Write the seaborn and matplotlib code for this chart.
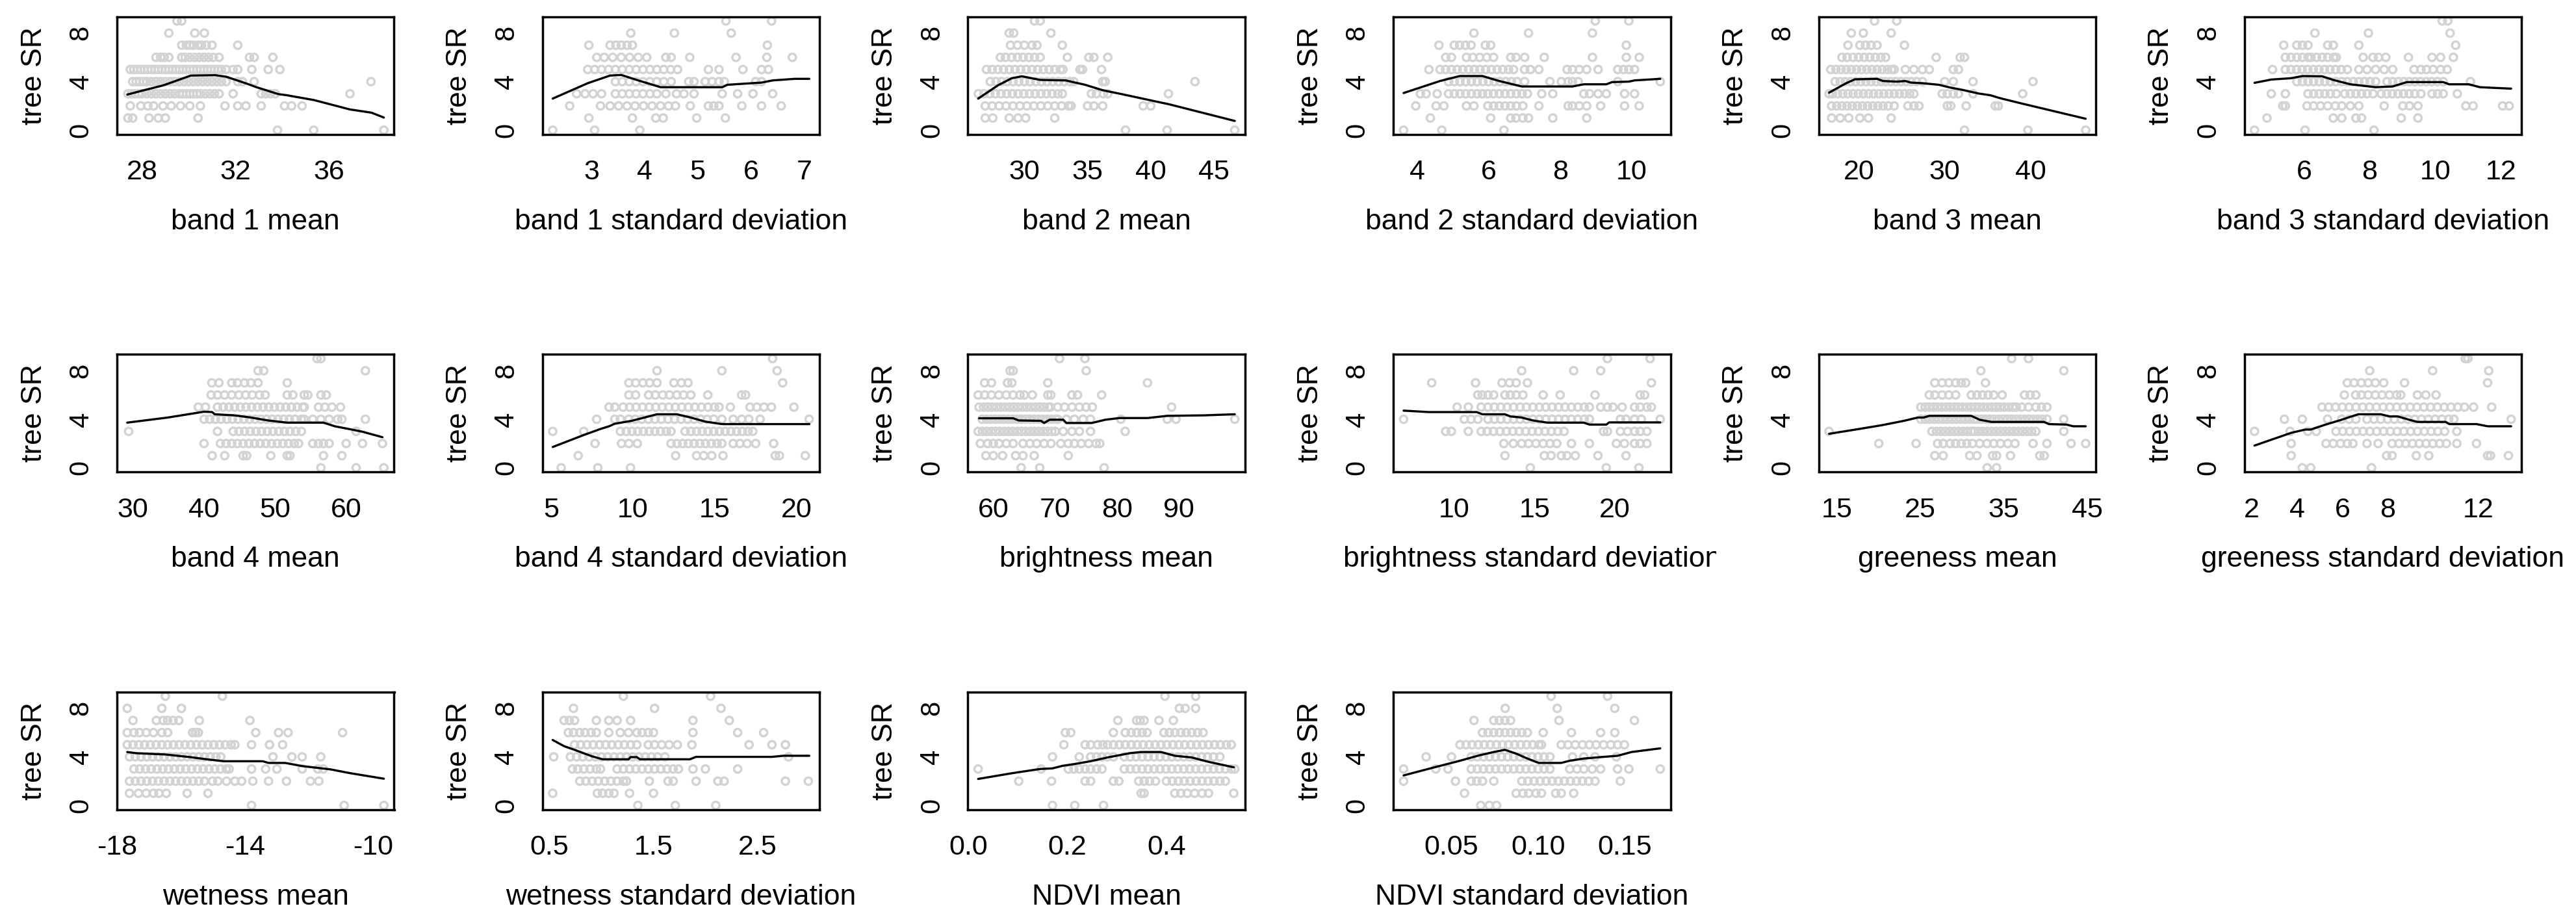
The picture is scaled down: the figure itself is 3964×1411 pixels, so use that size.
import matplotlib
matplotlib.use("Agg")
import matplotlib.pyplot as plt
import numpy as np
import pandas as pd
import seaborn as sns
from matplotlib.transforms import Bbox, TransformedBbox

# values: tree SR level -> x values of the grey points,
# plus the black smoother line for each predictor

band1_mean_pts = {
    9: [29.5, 29.7],
    8: [29.15, 30.26, 30.67],
    7: [29.7, 29.9, 30.05, 30.2, 30.4, 30.55, 30.75, 31.0, 32.1],
    6: [28.6, 28.8, 28.95, 29.15, 29.7, 29.85, 30.05, 30.25, 30.45, 30.65, 30.85, 31.05, 31.3, 32.6, 32.8, 33.6],
    5: [27.5, 27.65, 27.8, 27.95, 28.1, 28.25, 28.4, 28.55, 28.7, 28.85, 29.0, 29.15, 29.3, 29.45, 29.6, 29.75,
        29.9, 30.05, 30.2, 30.35, 30.5, 30.65, 30.8, 30.95, 31.1, 31.25, 31.4, 31.6, 31.9, 32.1, 32.7, 33.4, 33.9],
    4: [27.6, 27.75, 27.9, 28.05, 28.2, 28.4, 28.6, 28.8, 29.0, 29.2, 29.4, 29.6, 29.8, 30.0, 30.2, 30.4, 30.6,
        30.8, 31.0, 31.2, 31.4, 31.6, 32.1, 32.3, 32.8, 37.8],
    3: [27.4, 27.55, 27.7, 27.85, 28.0, 28.2, 28.4, 28.6, 28.8, 29.0, 29.2, 29.4, 29.6, 29.75, 29.9, 30.05, 30.2,
        30.35, 30.5, 30.7, 30.9, 31.1, 31.3, 31.9, 33.1, 33.3, 33.5, 33.7, 36.9],
    2: [27.5, 27.95, 28.25, 28.5, 28.9, 29.25, 29.65, 30.05, 30.5, 31.55, 32.1, 32.45, 33.1, 34.1, 34.4, 34.85],
    1: [27.4, 27.6, 28.3, 28.7, 29.0, 30.4],
    0: [33.8, 35.35, 38.35],
}
band1_mean_line_x = [27.37, 27.98, 28.91, 30.09, 31.14, 31.61, 32.43, 32.9, 33.84, 34.19, 35.36, 36.89, 37.82, 38.35]
band1_mean_line_y = [2.93, 3.24, 3.69, 4.5, 4.53, 4.4, 3.87, 3.54, 2.97, 2.88, 2.48, 1.71, 1.44, 1.04]
band1_mean_ticks = [28, 30, 32, 34, 36, 38]
band1_mean_labels = ["28", "", "32", "", "36", ""]

band1_sd_pts = {
    9: [5.53, 6.39],
    8: [3.74, 4.56, 5.63],
    7: [2.95, 3.35, 3.46, 3.56, 3.67, 3.77, 6.31],
    6: [3.1, 3.24, 3.4, 3.56, 3.72, 3.88, 4.04, 4.4, 4.5, 4.85, 5.72, 6.3, 6.78],
    5: [2.93, 3.06, 3.19, 3.32, 3.45, 3.58, 3.71, 3.84, 3.97, 4.1, 4.23, 4.36, 4.49, 4.62, 5.2, 5.4, 5.85, 6.2, 6.33],
    4: [3.45, 3.58, 3.71, 3.84, 3.97, 4.1, 4.23, 4.36, 4.5, 4.83, 4.93, 5.14, 5.27, 5.4, 5.5, 6.09, 6.2],
    3: [2.72, 2.88, 3.03, 3.19, 3.45, 3.58, 3.71, 3.84, 3.97, 4.1, 4.23, 4.4, 4.6, 4.74, 4.93, 5.46, 5.75, 6.04, 6.41],
    2: [2.59, 3.17, 3.35, 3.51, 3.67, 3.82, 3.98, 4.14, 4.3, 4.45, 4.58, 4.86, 5.2, 5.3, 5.4, 5.83, 6.2, 6.57],
    1: [2.95, 3.77, 4.21, 4.35, 4.98, 5.52],
    0: [2.27, 3.06, 3.91],
}
band1_sd_line_x = [2.27, 2.93, 3.35, 3.56, 3.88, 4.3, 5.46, 5.56, 6.2, 6.41, 6.83, 7.1]
band1_sd_line_y = [2.6, 3.87, 4.5, 4.55, 4.1, 3.54, 3.54, 3.74, 3.92, 4.1, 4.23, 4.23]
band1_sd_ticks = [3, 4, 5, 6, 7]
band1_sd_labels = ["3", "4", "5", "6", "7"]

band2_mean_pts = {
    9: [30.8, 31.25],
    8: [28.8, 29.15, 32.1],
    7: [28.9, 29.45, 30.0, 30.6, 31.0, 33.0],
    6: [28.1, 28.5, 29.0, 29.45, 29.9, 30.35, 30.8, 31.25, 33.4, 35.1, 35.5, 36.6],
    5: [27.0, 27.45, 27.9, 28.35, 28.8, 29.25, 29.7, 30.15, 30.6, 31.05, 31.5, 31.95, 32.4, 32.85, 33.05,
        34.4, 34.6, 36.1],
    4: [27.3, 27.75, 28.2, 28.65, 29.1, 29.55, 30.0, 30.45, 30.9, 31.35, 31.8, 32.25, 32.7, 33.15, 33.6, 33.9,
        36.2, 36.4, 43.5],
    3: [26.35, 26.8, 27.25, 27.7, 28.15, 28.6, 29.05, 29.5, 29.95, 30.4, 30.85, 31.3, 31.75, 32.2, 32.65, 33.0,
        35.3, 35.7, 36.25, 36.6, 41.4],
    2: [26.9, 27.45, 28.0, 28.55, 29.1, 29.65, 30.2, 30.75, 31.3, 31.85, 32.4, 32.95, 33.5, 33.7, 35.0, 35.5,
        36.2, 39.4, 40.0],
    1: [26.9, 27.5, 28.8, 29.5, 30.1, 32.4],
    0: [38.0, 41.3, 46.65],
}
band2_mean_line_x = [26.34, 27.9, 29.0, 29.8, 31.25, 33.26, 34.8, 36.2, 37.7, 41.5, 46.65]
band2_mean_line_y = [2.6, 3.69, 4.28, 4.44, 4.14, 4.1, 3.74, 3.29, 2.97, 2.12, 0.76]
band2_mean_ticks = [30, 35, 40, 45]
band2_mean_labels = ["30", "35", "40", "45"]

band2_sd_pts = {
    9: [8.98, 9.92],
    8: [5.58, 7.11, 8.9],
    7: [4.6, 5.03, 5.18, 5.34, 5.5, 5.9, 6.05, 9.85],
    6: [4.79, 4.95, 5.37, 5.55, 5.74, 5.94, 6.13, 6.61, 6.76, 7.0, 7.55, 8.9, 9.85, 10.21],
    5: [4.32, 4.63, 4.79, 4.95, 5.11, 5.27, 5.43, 5.59, 5.75, 5.91, 6.07, 6.23, 6.39, 6.55, 6.69, 7.0, 7.16, 7.4,
        8.19, 8.34, 8.53, 8.74, 9.06, 9.61, 9.77, 9.92, 10.08],
    4: [4.87, 5.03, 5.19, 5.35, 5.51, 5.67, 5.83, 5.99, 6.15, 6.31, 6.47, 6.63, 6.79, 7.0, 7.71, 8.03, 8.22,
        8.34, 8.5, 9.61, 10.8],
    3: [4.08, 4.24, 4.55, 4.87, 5.03, 5.19, 5.35, 5.51, 5.67, 5.82, 5.97, 6.13, 6.29, 6.45, 6.61, 6.77, 6.93,
        7.08, 7.48, 7.79, 8.66, 8.82, 9.06, 9.29, 9.8, 10.08],
    2: [3.95, 4.52, 4.74, 5.37, 5.58, 5.97, 6.13, 6.29, 6.45, 6.61, 6.77, 6.95, 7.4, 8.22, 8.34, 8.53, 8.74,
        9.13, 9.8, 10.21],
    1: [4.36, 6.05, 6.61, 6.76, 6.95, 7.11, 7.79, 8.74],
    0: [3.61, 4.68, 6.42],
}
band2_sd_line_x = [3.61, 4.63, 5.18, 5.82, 6.29, 6.92, 8.34, 8.66, 9.29, 9.45, 9.92, 10.08, 10.8]
band2_sd_line_y = [3.06, 4.05, 4.46, 4.46, 4.05, 3.6, 3.6, 3.78, 3.78, 3.96, 4.0, 4.1, 4.23]
band2_sd_ticks = [4, 5, 6, 7, 8, 9, 10, 11]
band2_sd_labels = ["4", "", "6", "", "8", "", "10", ""]

band3_mean_pts = {
    9: [21.8, 24.4],
    8: [19.1, 20.5, 23.75],
    7: [18.7, 20.1, 20.75, 21.4, 22.1, 25.3],
    6: [18.0, 18.6, 19.3, 19.95, 20.6, 21.25, 21.9, 22.55, 23.1, 29.0, 31.8, 32.3],
    5: [16.7, 17.3, 17.9, 18.5, 19.1, 19.7, 20.3, 20.9, 21.5, 22.1, 22.7, 23.3, 23.8, 24.1, 25.4, 26.4, 27.4,
        28.2, 31.0, 31.6],
    4: [17.2, 17.8, 18.4, 19.0, 19.6, 20.2, 20.8, 21.4, 22.0, 22.6, 23.1, 23.7, 24.3, 24.9, 25.5, 26.1, 26.7,
        27.4, 30.0, 31.0, 33.3, 40.3],
    3: [16.5, 16.9, 17.5, 18.1, 18.7, 19.3, 19.9, 20.5, 21.1, 21.7, 22.3, 22.9, 23.5, 24.1, 24.7, 25.3, 25.9,
        26.4, 29.7, 30.3, 31.0, 31.6, 33.3, 39.1],
    2: [16.8, 17.4, 18.0, 18.6, 19.2, 19.8, 20.4, 21.0, 21.6, 22.2, 22.8, 23.4, 24.1, 25.7, 26.4, 27.0, 30.3,
        30.7, 32.5, 35.9, 36.25],
    1: [16.8, 17.8, 18.8, 20.1, 21.1, 23.75],
    0: [32.3, 39.7, 46.45],
}
band3_mean_line_x = [16.5, 18.5, 19.5, 22.1, 22.8, 24.4, 25.4, 26.05, 27.4, 29.3, 30.65, 32.0, 33.95, 35.3,
                     36.6, 39.2, 46.45]
band3_mean_line_y = [3.09, 3.87, 4.19, 4.23, 4.05, 4.0, 4.05, 3.92, 3.87, 3.74, 3.51, 3.33, 3.02, 2.88, 2.61,
                     2.16, 0.94]
band3_mean_ticks = [20, 25, 30, 35, 40, 45]
band3_mean_labels = ["20", "", "30", "", "40", ""]

band3_sd_pts = {
    9: [10.21, 10.38],
    8: [6.33, 7.96, 10.45],
    7: [5.38, 5.78, 5.95, 6.12, 6.72, 6.89, 7.67, 10.62],
    6: [5.43, 5.6, 5.78, 5.95, 6.12, 6.21, 6.38, 6.55, 6.72, 6.9, 6.98, 7.8, 8.1, 8.27, 8.49, 9.18, 9.9, 10.16,
        10.55],
    5: [5.04, 5.43, 5.6, 5.77, 5.94, 6.11, 6.28, 6.45, 6.62, 6.79, 6.96, 7.13, 7.32, 7.67, 7.92, 8.18, 8.44,
        8.7, 9.35, 9.56, 9.73, 9.93, 10.16, 10.36],
    4: [5.78, 5.95, 6.12, 6.29, 6.46, 6.63, 6.8, 6.97, 7.15, 7.32, 7.5, 7.67, 7.84, 8.01, 8.18, 8.53, 8.7,
        8.87, 9.04, 9.21, 9.38, 9.55, 9.72, 9.89, 10.06, 10.24, 11.07],
    3: [5.0, 5.43, 6.12, 6.29, 6.46, 6.63, 6.8, 6.98, 7.24, 7.41, 7.58, 7.75, 7.92, 8.1, 8.35, 8.52, 8.69,
        8.86, 9.03, 9.2, 9.37, 9.56, 9.9, 10.07, 10.24, 10.67],
    2: [5.35, 5.43, 6.09, 6.29, 6.5, 6.72, 6.95, 7.15, 7.41, 7.67, 8.44, 9.01, 9.21, 9.47, 10.93, 11.15,
        12.05, 12.25],
    1: [4.87, 6.89, 7.15, 7.58, 7.75, 8.96, 9.47],
    0: [4.49, 6.03, 8.13],
}
band3_sd_line_x = [4.49, 5.0, 5.6, 5.95, 6.55, 6.89, 7.41, 8.18, 8.7, 9.13, 10.24, 10.42, 11.02, 11.36, 12.31]
band3_sd_line_y = [3.9, 4.17, 4.28, 4.46, 4.44, 4.14, 3.78, 3.54, 3.6, 3.96, 3.96, 3.78, 3.78, 3.54, 3.42]
band3_sd_ticks = [6, 8, 10, 12]
band3_sd_labels = ["6", "8", "10", "12"]

band4_mean_pts = {
    9: [55.9, 56.45],
    8: [47.6, 48.4, 62.7],
    7: [41.1, 42.1, 43.9, 44.7, 45.7, 46.6, 47.6, 51.7],
    6: [41.0, 41.9, 42.9, 43.9, 44.9, 45.85, 46.8, 47.8, 48.6, 51.7, 52.5, 54.1, 54.6, 56.45, 57.2],
    5: [39.2, 40.2, 41.9, 42.7, 43.5, 44.3, 45.1, 45.9, 46.7, 47.5, 48.3, 49.1, 49.9, 50.7, 51.5, 52.3, 53.1,
        53.9, 54.1, 56.1, 57.0, 58.0, 59.2],
    4: [40.0, 40.8, 41.6, 42.4, 43.2, 44.0, 44.8, 45.6, 46.4, 47.2, 48.0, 48.8, 49.6, 50.4, 51.2, 52.0, 52.8,
        53.7, 54.1, 55.3, 56.45, 57.6, 58.8, 59.4, 62.7],
    3: [29.4, 41.9, 44.1, 44.9, 45.7, 46.5, 47.3, 48.1, 48.9, 49.7, 50.5, 51.3, 52.1, 52.9, 53.7, 61.4],
    2: [40.0, 42.3, 43.1, 43.9, 44.7, 45.5, 46.3, 47.1, 47.9, 48.7, 49.5, 50.3, 51.1, 51.9, 52.7, 53.3, 55.3,
        56.1, 56.8, 57.6, 60.0, 62.3, 65.1],
    1: [41.15, 42.9, 45.5, 46.0, 49.4, 51.7, 52.1, 56.8, 59.4],
    0: [56.45, 61.4, 65.3],
}
band4_mean_line_x = [29.2, 34.9, 40.0, 41.15, 41.5, 44.3, 46.6, 49.0, 51.7, 56.8, 58.4, 60.0, 62.3, 65.1]
band4_mean_line_y = [3.72, 4.14, 4.62, 4.59, 4.41, 4.32, 4.14, 3.9, 3.72, 3.72, 3.42, 3.24, 2.97, 2.52]
band4_mean_ticks = [30, 35, 40, 45, 50, 55, 60, 65]
band4_mean_labels = ["30", "", "40", "", "50", "", "60", ""]

band4_sd_pts = {
    9: [18.55],
    8: [11.48, 15.45, 18.83],
    7: [9.76, 10.17, 10.62, 11.03, 11.48, 12.52, 12.97, 13.38, 19.17],
    6: [9.76, 10.17, 10.97, 11.38, 11.83, 12.24, 12.69, 13.1, 13.55, 14.59, 16.66, 16.9],
    5: [8.55, 8.9, 9.41, 9.8, 10.2, 10.6, 11.0, 11.4, 11.8, 12.2, 12.6, 13.0, 13.4, 13.8, 14.2, 14.6, 15.0,
        15.28, 15.97, 17.17, 17.59, 18.03, 18.48, 19.86],
    4: [7.79, 8.9, 9.24, 9.76, 10.15, 10.55, 10.95, 11.35, 11.75, 12.15, 12.55, 12.95, 13.35, 13.75, 14.15,
        14.55, 14.95, 15.45, 16.14, 16.66, 17.1, 17.79, 20.79],
    3: [5.1, 7.0, 9.24, 9.6, 9.95, 10.3, 10.65, 11.0, 11.35, 11.7, 12.05, 12.34, 13.2, 13.55, 13.9, 14.25,
        14.6, 14.95, 15.3, 15.65, 16.0, 16.35, 16.7, 17.05, 17.34],
    2: [7.69, 9.31, 9.76, 10.28, 12.34, 12.7, 13.05, 13.4, 13.75, 14.1, 14.45, 14.8, 15.15, 15.45, 16.14,
        16.55, 17.0, 17.52, 18.62],
    1: [6.66, 12.62, 13.9, 14.34, 14.83, 15.52, 18.72, 18.97, 20.55],
    0: [5.62, 7.86, 9.86],
}
band4_sd_line_x = [5.1, 7.0, 8.03, 8.55, 8.9, 9.93, 10.97, 11.48, 12.69, 13.55, 14.41, 15.45, 20.8]
band4_sd_line_y = [1.71, 2.7, 3.2, 3.42, 3.63, 3.87, 4.23, 4.41, 4.41, 4.14, 3.81, 3.6, 3.6]
band4_sd_ticks = [5, 10, 15, 20]
band4_sd_labels = ["5", "10", "15", "20"]

bright_mean_pts = {
    9: [70.7, 74.8],
    8: [62.7, 63.2, 75.0],
    7: [58.6, 59.7, 62.3, 63.0, 68.8, 84.9],
    6: [57.55, 58.6, 59.7, 60.9, 62.1, 63.2, 64.3, 65.0, 66.3, 68.8, 69.3, 72.7, 73.6, 77.5],
    5: [57.7, 58.4, 59.1, 59.8, 60.5, 61.2, 61.9, 62.6, 63.3, 64.0, 64.7, 65.4, 66.1, 66.8, 67.5, 68.2, 68.9,
        69.2, 70.4, 71.5, 72.7, 73.9, 75.0, 76.0, 88.8],
    4: [58.2, 58.9, 59.6, 60.3, 61.0, 61.7, 62.4, 63.1, 63.8, 64.5, 65.2, 65.9, 66.6, 67.3, 68.0, 68.7, 69.4,
        70.1, 70.4, 71.8, 73.1, 74.5, 75.7, 80.6, 88.1, 89.5, 99.0],
    3: [57.55, 58.25, 58.95, 59.65, 60.35, 61.05, 61.75, 62.45, 63.15, 63.85, 64.55, 65.25, 65.95, 66.65,
        67.35, 68.05, 68.75, 69.45, 70.0, 71.3, 72.7, 73.9, 75.7, 81.3],
    2: [57.9, 59.1, 60.0, 60.9, 62.1, 63.2, 64.8, 65.9, 67.0, 68.2, 69.3, 70.9, 72.1, 73.1, 74.2, 75.4, 76.6,
        77.2],
    1: [58.8, 60.0, 61.5, 63.6, 64.8, 66.6, 72.1],
    0: [64.5, 67.5, 77.9],
}
bright_mean_line_x = [57.7, 63.2, 64.1, 67.7, 68.2, 69.1, 71.3, 71.8, 75.9, 78.1, 80.4, 84.9, 88.1, 94.0, 99.0]
bright_mean_line_y = [4.08, 4.08, 3.9, 3.87, 3.69, 3.96, 3.96, 3.69, 3.69, 3.96, 4.1, 4.1, 4.28, 4.32, 4.41]
bright_mean_ticks = [60, 70, 80, 90, 100]
bright_mean_labels = ["60", "70", "80", "90", ""]

bright_sd_pts = {
    9: [19.54, 22.2],
    8: [14.2, 17.44, 19.12],
    7: [8.6, 11.33, 12.98, 13.44, 13.86, 14.56, 22.28],
    6: [11.47, 11.75, 12.1, 12.46, 13.16, 13.5, 13.86, 14.28, 15.54, 16.6, 18.77, 21.58, 21.86],
    5: [10.18, 10.88, 11.68, 12.1, 12.5, 12.9, 13.3, 13.7, 14.1, 14.5, 14.9, 15.3, 15.7, 16.1, 16.5, 16.9,
        17.3, 17.7, 18.1, 18.42, 19.12, 19.54, 19.89, 20.46, 21.23, 21.58, 22.0, 22.28],
    4: [6.85, 10.63, 11.05, 11.47, 12.1, 12.5, 12.9, 13.3, 13.7, 14.1, 14.5, 14.9, 15.3, 15.7, 16.1, 16.5,
        16.9, 17.3, 17.7, 18.1, 18.42, 20.35, 20.7, 21.23, 21.65, 22.83],
    3: [9.47, 9.82, 10.88, 11.68, 12.05, 12.45, 12.85, 13.25, 13.65, 14.05, 14.45, 14.85, 15.25, 15.65, 16.05,
        16.45, 16.84, 19.3, 19.54, 20.35, 20.8, 21.23, 21.58, 22.0],
    2: [13.09, 13.68, 14.2, 14.63, 15.09, 15.54, 15.96, 16.39, 17.3, 18.42, 20.1, 20.6, 21.23, 21.58, 22.0],
    1: [13.16, 15.61, 16.03, 16.67, 17.02, 17.54, 18.95, 20.7],
    0: [14.74, 19.47, 21.5],
}
bright_sd_line_x = [6.85, 8.42, 11.4, 11.75, 13.16, 13.5, 14.2, 14.9, 15.8, 18.07, 18.42, 19.47, 19.65, 22.83]
bright_sd_line_y = [4.71, 4.59, 4.59, 4.41, 4.41, 4.23, 4.14, 3.9, 3.72, 3.72, 3.56, 3.56, 3.74, 3.74]
bright_sd_ticks = [10, 15, 20]
bright_sd_labels = ["10", "15", "20"]

green_mean_pts = {
    9: [35.94, 37.95],
    8: [32.25, 42.18],
    7: [26.74, 27.62, 28.42, 29.23, 29.9, 30.44, 32.8],
    6: [26.07, 26.74, 27.62, 28.42, 29.23, 31.1, 31.78, 32.45, 33.12, 33.79, 34.8, 37.48, 38.15, 38.83],
    5: [25.07, 25.57, 26.07, 26.57, 27.07, 27.57, 28.07, 28.57, 29.07, 29.57, 30.07, 30.57, 31.07, 31.57,
        32.07, 32.57, 33.07, 33.57, 34.07, 34.57, 35.07, 35.57, 36.07, 36.48, 37.15, 37.95, 38.83, 39.5, 40.17],
    4: [25.07, 25.6, 26.13, 26.66, 27.19, 27.72, 28.25, 28.78, 29.31, 29.84, 30.37, 30.9, 31.44, 31.78, 32.3,
        32.82, 33.34, 33.86, 34.38, 34.9, 35.42, 35.94, 36.46, 36.98, 37.5, 38.02, 38.54, 39.06, 39.58, 40.17,
        42.18],
    3: [14.08, 26.4, 26.93, 27.46, 27.99, 28.52, 29.05, 29.58, 30.11, 30.64, 31.1, 31.44, 31.97, 32.5, 33.03,
        33.56, 34.09, 34.62, 35.15, 35.68, 36.21, 36.74, 37.27, 37.8, 38.33, 38.83, 42.18],
    2: [20.03, 24.5, 27.08, 27.75, 28.56, 29.23, 29.9, 30.57, 31.24, 32.11, 32.98, 33.79, 34.6, 35.47, 36.34,
        38.5, 40.17, 43.05, 44.8],
    1: [26.74, 27.75, 30.91, 31.78, 33.66, 34.13, 35.8, 39.3, 39.83],
    0: [33.0, 34.13],
}
green_mean_line_x = [14.08, 17.7, 20.4, 23.05, 24.7, 25.4, 26.1, 31.1, 32.1, 33.5, 39.8, 40.4, 42.5, 43.3, 44.8]
green_mean_line_y = [2.8, 3.2, 3.51, 3.87, 4.14, 4.14, 4.28, 4.28, 3.96, 3.78, 3.78, 3.6, 3.56, 3.42, 3.42]
green_mean_ticks = [15, 20, 25, 30, 35, 40, 45]
green_mean_labels = ["15", "", "25", "", "35", "", "45"]

green_sd_pts = {
    9: [11.43, 11.55],
    8: [7.21, 9.99, 12.47],
    7: [6.22, 6.52, 6.84, 7.14, 7.46, 7.83, 8.75, 12.42],
    6: [6.09, 6.59, 6.84, 7.14, 7.46, 7.76, 8.08, 8.4, 8.58, 9.32, 9.69, 10.14],
    5: [5.1, 5.4, 5.7, 6.0, 6.3, 6.6, 6.9, 7.2, 7.5, 7.8, 8.1, 8.4, 8.7, 9.0, 9.3, 9.6, 9.9, 10.2, 10.5, 10.8,
        11.1, 11.4, 11.8, 12.6],
    4: [3.44, 4.23, 5.35, 5.97, 6.3, 6.6, 7.09, 7.4, 7.7, 8.0, 8.3, 8.6, 8.9, 9.2, 9.5, 9.8, 10.1, 10.4, 10.7,
        10.93, 13.46],
    3: [2.12, 3.69, 4.48, 4.85, 5.72, 6.02, 6.32, 6.62, 6.92, 7.22, 7.52, 7.82, 8.12, 8.42, 8.72, 9.02, 9.32,
        9.62, 9.92, 10.22, 10.52, 11.06],
    2: [3.74, 5.28, 5.6, 5.92, 6.22, 6.47, 7.09, 7.58, 8.2, 8.5, 8.8, 9.1, 9.4, 9.7, 10.0, 10.3, 10.6, 11.06,
        11.93],
    1: [3.74, 7.96, 8.2, 9.27, 9.82, 12.42, 12.55, 13.34],
    0: [4.23, 4.6, 7.29],
}
green_sd_line_x = [2.12, 3.74, 4.36, 4.6, 5.23, 5.97, 6.34, 6.71, 7.71, 8.08, 8.45, 8.95, 9.32, 10.56, 10.73,
                   11.93, 12.42, 13.46]
green_sd_line_y = [1.83, 2.88, 3.15, 3.15, 3.54, 3.96, 4.19, 4.41, 4.41, 4.23, 4.23, 3.96, 3.78, 3.78, 3.6,
                   3.6, 3.42, 3.42]
green_sd_ticks = [2, 4, 6, 8, 10, 12]
green_sd_labels = ["2", "4", "6", "8", "", "12"]

wet_mean_pts = {
    9: [-16.49, -14.71],
    8: [-17.68, -16.6, -15.99],
    7: [-17.5, -16.77, -16.56, -16.42, -16.25, -16.07, -15.43, -13.85],
    6: [-17.68, -17.47, -17.3, -17.09, -16.86, -16.6, -16.42, -15.64, -15.55, -15.46, -13.67, -12.96, -12.66,
        -10.96],
    5: [-17.68, -17.5, -17.32, -17.14, -16.96, -16.78, -16.6, -16.42, -16.24, -16.06, -15.88, -15.7, -15.52,
        -15.34, -15.16, -14.98, -14.8, -14.62, -14.44, -14.32, -13.8, -13.24, -12.83],
    4: [-17.61, -17.43, -17.25, -17.07, -16.89, -16.71, -16.53, -16.35, -16.17, -15.99, -15.81, -15.63, -15.45,
        -15.27, -15.09, -14.91, -14.76, -13.13, -12.54, -12.22, -11.64],
    3: [-17.47, -17.29, -17.11, -16.93, -16.75, -16.57, -16.39, -16.21, -16.03, -15.85, -15.67, -15.49, -15.31,
        -15.13, -14.95, -14.77, -14.59, -14.5, -13.8, -13.36, -13.01, -12.22, -11.73, -11.56],
    2: [-17.61, -17.43, -17.25, -17.07, -16.89, -16.71, -16.53, -16.35, -16.17, -15.99, -15.81, -15.63, -15.45,
        -15.27, -15.02, -14.85, -14.58, -14.32, -14.11, -13.76, -13.27, -12.71, -11.96, -11.7],
    1: [-17.61, -17.33, -17.09, -16.86, -16.69, -16.46, -15.81, -15.16],
    0: [-13.8, -10.91, -9.67],
}
wet_mean_line_x = [-17.68, -17.39, -16.51, -15.72, -15.2, -14.67, -13.45, -13.27, -12.75, -12.22, -11.34,
                   -10.73, -9.67]
wet_mean_line_y = [4.4, 4.3, 4.2, 3.98, 3.8, 3.64, 3.64, 3.5, 3.5, 3.24, 2.97, 2.66, 2.2]
wet_mean_ticks = [-18, -16, -14, -12, -10]
wet_mean_labels = ["-18", "", "-14", "", "-10"]

wet_sd_pts = {
    9: [1.21, 2.05],
    8: [0.73, 1.51, 2.15],
    7: [0.64, 0.69, 0.74, 0.95, 1.07, 1.15, 1.28, 1.88, 2.23],
    6: [0.68, 0.73, 0.79, 0.84, 0.9, 0.95, 1.07, 1.18, 1.26, 1.34, 1.39, 1.45, 1.5, 1.88, 2.31, 2.56],
    5: [0.74, 0.8, 0.86, 0.92, 0.98, 1.04, 1.1, 1.16, 1.22, 1.28, 1.34, 1.45, 1.51, 1.58, 1.65, 1.73, 1.87,
        2.42, 2.64, 2.77],
    4: [0.54, 0.7, 0.76, 0.82, 0.88, 0.94, 1.0, 1.06, 1.12, 1.18, 1.24, 1.3, 1.36, 1.42, 1.48, 1.54, 1.61, 2.8],
    3: [0.72, 0.77, 0.83, 0.89, 0.95, 0.99, 1.15, 1.21, 1.27, 1.33, 1.39, 1.45, 1.51, 1.57, 1.63, 1.69, 1.74,
        1.88, 2.0, 2.31],
    2: [0.79, 0.85, 0.91, 0.97, 1.03, 1.09, 1.15, 1.21, 1.24, 1.46, 1.64, 1.69, 1.91, 2.12, 2.18, 2.77, 2.99],
    1: [0.53, 0.96, 1.01, 1.07, 1.12, 1.27, 1.5],
    0: [1.35, 1.71, 2.1],
}
wet_sd_line_x = [0.53, 0.64, 0.74, 0.91, 1.01, 1.26, 1.28, 1.34, 1.37, 1.85, 1.91, 2.64, 2.75, 3.0]
wet_sd_line_y = [5.39, 4.88, 4.58, 4.04, 3.8, 3.8, 3.98, 3.98, 3.8, 3.8, 4.0, 4.0, 4.09, 4.09]
wet_sd_ticks = [0.5, 1.0, 1.5, 2.0, 2.5, 3.0]
wet_sd_labels = ["0.5", "", "1.5", "", "2.5", ""]

ndvi_mean_pts = {
    9: [0.397, 0.459],
    8: [0.426, 0.438, 0.459],
    7: [0.302, 0.34, 0.347, 0.355, 0.385, 0.414],
    6: [0.196, 0.207, 0.293, 0.317, 0.329, 0.34, 0.351, 0.361, 0.395, 0.406, 0.417, 0.429, 0.44, 0.451, 0.463,
        0.474],
    5: [0.193, 0.236, 0.247, 0.261, 0.272, 0.281, 0.293, 0.305, 0.317, 0.329, 0.341, 0.353, 0.365, 0.377,
        0.389, 0.401, 0.413, 0.425, 0.437, 0.449, 0.461, 0.473, 0.485, 0.497, 0.509, 0.521, 0.531],
    4: [0.17, 0.224, 0.247, 0.259, 0.27, 0.281, 0.293, 0.315, 0.327, 0.339, 0.351, 0.363, 0.375, 0.387, 0.399,
        0.411, 0.423, 0.435, 0.447, 0.459, 0.471, 0.483, 0.495, 0.508],
    3: [0.02, 0.147, 0.202, 0.213, 0.224, 0.236, 0.247, 0.259, 0.27, 0.315, 0.327, 0.339, 0.351, 0.363,
        0.375, 0.387, 0.399, 0.411, 0.423, 0.435, 0.447, 0.459, 0.471, 0.483, 0.495, 0.507, 0.519, 0.531, 0.538],
    2: [0.102, 0.168, 0.236, 0.247, 0.293, 0.304, 0.344, 0.355, 0.366, 0.378, 0.4, 0.412, 0.424, 0.436, 0.448,
        0.46, 0.472, 0.484, 0.496, 0.508, 0.519],
    1: [0.349, 0.355, 0.417, 0.429, 0.442, 0.457, 0.472, 0.485, 0.536],
    0: [0.17, 0.215, 0.273],
}
ndvi_mean_line_x = [0.02, 0.088, 0.145, 0.17, 0.19, 0.213, 0.247, 0.281, 0.327, 0.349, 0.389, 0.417, 0.451,
                    0.485, 0.536]
ndvi_mean_line_y = [2.18, 2.65, 3.0, 3.05, 3.26, 3.4, 3.64, 3.95, 4.31, 4.4, 4.4, 4.09, 3.95, 3.59, 3.14]
ndvi_mean_ticks = [0.0, 0.1, 0.2, 0.3, 0.4, 0.5]
ndvi_mean_labels = ["0.0", "", "0.2", "", "0.4", ""]

ndvi_sd_pts = {
    9: [0.1075, 0.14],
    8: [0.081, 0.111, 0.1442],
    7: [0.063, 0.0744, 0.0776, 0.0808, 0.0841, 0.112, 0.1555],
    6: [0.0679, 0.0711, 0.0744, 0.0776, 0.0808, 0.0841, 0.0873, 0.0906, 0.0938, 0.1029, 0.1192, 0.136, 0.1442],
    5: [0.0549, 0.0584, 0.0619, 0.0654, 0.0689, 0.0724, 0.0759, 0.0794, 0.0829, 0.0864, 0.0899, 0.0934,
        0.0969, 0.1004, 0.1019, 0.1133, 0.1172, 0.1214, 0.1256, 0.1295, 0.1334, 0.1377, 0.1419, 0.1458, 0.1497],
    4: [0.0354, 0.05, 0.0614, 0.0649, 0.0684, 0.0719, 0.0754, 0.0789, 0.0824, 0.0859, 0.0894, 0.0929, 0.0964,
        0.0999, 0.1034, 0.1068, 0.1198, 0.1263, 0.1328, 0.1451],
    3: [0.0224, 0.041, 0.048, 0.0614, 0.0649, 0.0684, 0.0719, 0.0754, 0.0789, 0.0824, 0.0859, 0.0894, 0.0929,
        0.0964, 0.0999, 0.1034, 0.1068, 0.1182, 0.1224, 0.1263, 0.1312, 0.136, 0.1458, 0.1523, 0.1704],
    2: [0.0224, 0.0523, 0.0614, 0.0646, 0.0679, 0.0744, 0.0906, 0.0941, 0.0976, 0.1011, 0.1046, 0.1081,
        0.1116, 0.1151, 0.1186, 0.1221, 0.1256, 0.1291, 0.1328, 0.1474],
    1: [0.0575, 0.0873, 0.0912, 0.0945, 0.0987, 0.1019, 0.1101, 0.1133, 0.1205],
    0: [0.0669, 0.0718, 0.076],
}
ndvi_sd_line_x = [0.0224, 0.0386, 0.0549, 0.0662, 0.0744, 0.0808, 0.0873, 0.0938, 0.1003, 0.1133, 0.1182,
                  0.1263, 0.136, 0.1458, 0.1539, 0.1704]
ndvi_sd_line_y = [2.47, 3.08, 3.68, 4.13, 4.4, 4.58, 4.27, 3.86, 3.5, 3.5, 3.68, 3.86, 3.98, 4.09, 4.4, 4.7]
ndvi_sd_ticks = [0.05, 0.10, 0.15]
ndvi_sd_labels = ["0.05", "0.10", "0.15"]

panels = [
    ("band 1 mean", band1_mean_pts, band1_mean_line_x, band1_mean_line_y, band1_mean_ticks, band1_mean_labels),
    ("band 1 standard deviation", band1_sd_pts, band1_sd_line_x, band1_sd_line_y, band1_sd_ticks, band1_sd_labels),
    ("band 2 mean", band2_mean_pts, band2_mean_line_x, band2_mean_line_y, band2_mean_ticks, band2_mean_labels),
    ("band 2 standard deviation", band2_sd_pts, band2_sd_line_x, band2_sd_line_y, band2_sd_ticks, band2_sd_labels),
    ("band 3 mean", band3_mean_pts, band3_mean_line_x, band3_mean_line_y, band3_mean_ticks, band3_mean_labels),
    ("band 3 standard deviation", band3_sd_pts, band3_sd_line_x, band3_sd_line_y, band3_sd_ticks, band3_sd_labels),
    ("band 4 mean", band4_mean_pts, band4_mean_line_x, band4_mean_line_y, band4_mean_ticks, band4_mean_labels),
    ("band 4 standard deviation", band4_sd_pts, band4_sd_line_x, band4_sd_line_y, band4_sd_ticks, band4_sd_labels),
    ("brightness mean", bright_mean_pts, bright_mean_line_x, bright_mean_line_y, bright_mean_ticks, bright_mean_labels),
    ("brightness standard deviation", bright_sd_pts, bright_sd_line_x, bright_sd_line_y, bright_sd_ticks, bright_sd_labels),
    ("greeness mean", green_mean_pts, green_mean_line_x, green_mean_line_y, green_mean_ticks, green_mean_labels),
    ("greeness standard deviation", green_sd_pts, green_sd_line_x, green_sd_line_y, green_sd_ticks, green_sd_labels),
    ("wetness mean", wet_mean_pts, wet_mean_line_x, wet_mean_line_y, wet_mean_ticks, wet_mean_labels),
    ("wetness standard deviation", wet_sd_pts, wet_sd_line_x, wet_sd_line_y, wet_sd_ticks, wet_sd_labels),
    ("NDVI mean", ndvi_mean_pts, ndvi_mean_line_x, ndvi_mean_line_y, ndvi_mean_ticks, ndvi_mean_labels),
    ("NDVI standard deviation", ndvi_sd_pts, ndvi_sd_line_x, ndvi_sd_line_y, ndvi_sd_ticks, ndvi_sd_labels),
]

y_ticks = [0, 2, 4, 6, 8]
y_labels = ["0", "", "4", "", "8"]

# layout in pixels (figure is 3964 x 1411 at dpi 100)
W, H = 3964, 1411
COL0, COLSTEP = 180, 654.7
ROW_TOP = [25.5, 545, 1064.5]
BOX_W, BOX_H = 426.5, 181.5

sns.set_style("white")
plt.rcParams["font.family"] = ["Liberation Sans", "DejaVu Sans"]
plt.rcParams["text.color"] = "black"
plt.rcParams["xtick.color"] = "black"
plt.rcParams["ytick.color"] = "black"
plt.rcParams["axes.labelcolor"] = "black"

fig = plt.figure(figsize=(W / 100, H / 100), dpi=100)
fig.patch.set_facecolor("white")

for i, (label, pts, lx, ly, ticks, tlabels) in enumerate(panels):
    row, col = divmod(i, 6)
    left = COL0 + col * COLSTEP
    ax = fig.add_axes([left / W, 1 - (ROW_TOP[row] + BOX_H) / H, BOX_W / W, BOX_H / H])

    df = pd.DataFrame([(x, y) for y, xs in pts.items() for x in xs], columns=["x", "y"])
    sns.scatterplot(data=df, x="x", y="y", ax=ax, marker="o", s=66, facecolor="none",
                    edgecolor="#d3d3d3", linewidth=2.5, legend=False, zorder=2)
    sns.lineplot(x=lx, y=ly, ax=ax, color="black", linewidth=2.4, sort=False,
                 estimator=None, zorder=3)

    # R style axis range: data range plus 4% each side
    all_x = np.concatenate([df["x"].values, np.asarray(lx)])
    lo, hi = all_x.min(), all_x.max()
    pad = 0.04 * (hi - lo)
    ax.set_xlim(lo - pad, hi + pad)
    ax.set_ylim(-0.36, 9.36)

    ax.set_xticks(ticks)
    ax.set_xticklabels(tlabels, fontsize=31)
    ax.set_yticks(y_ticks)
    ax.set_yticklabels(y_labels, fontsize=30, rotation=90, va="center")
    ax.tick_params(axis="both", direction="out", length=12.5, width=2.4, color="black")
    ax.tick_params(axis="x", pad=15)
    ax.tick_params(axis="y", pad=13)

    for sp in ax.spines.values():
        sp.set_visible(True)
        sp.set_linewidth(2.5)
        sp.set_color("black")

    ax.set_ylabel("tree SR", fontsize=32)
    ax.yaxis.set_label_coords(-128 / BOX_W, 0.5)
    ax.yaxis.label.set_va("center")

    ax.set_xlabel(label, fontsize=32)
    ax.xaxis.set_label_coords(0.5, -146 / BOX_H)
    ax.xaxis.label.set_va("baseline")
    # each panel's text is cut at the edge of its own figure cell
    x0 = (left - 158) / W
    x1 = (left - 158 + COLSTEP) / W
    ax.xaxis.label.set_clip_box(TransformedBbox(Bbox.from_extents(x0, 0, x1, 1), fig.transFigure))
    ax.xaxis.label.set_clip_on(True)

fig.savefig("out.png", dpi=100, facecolor="white")
